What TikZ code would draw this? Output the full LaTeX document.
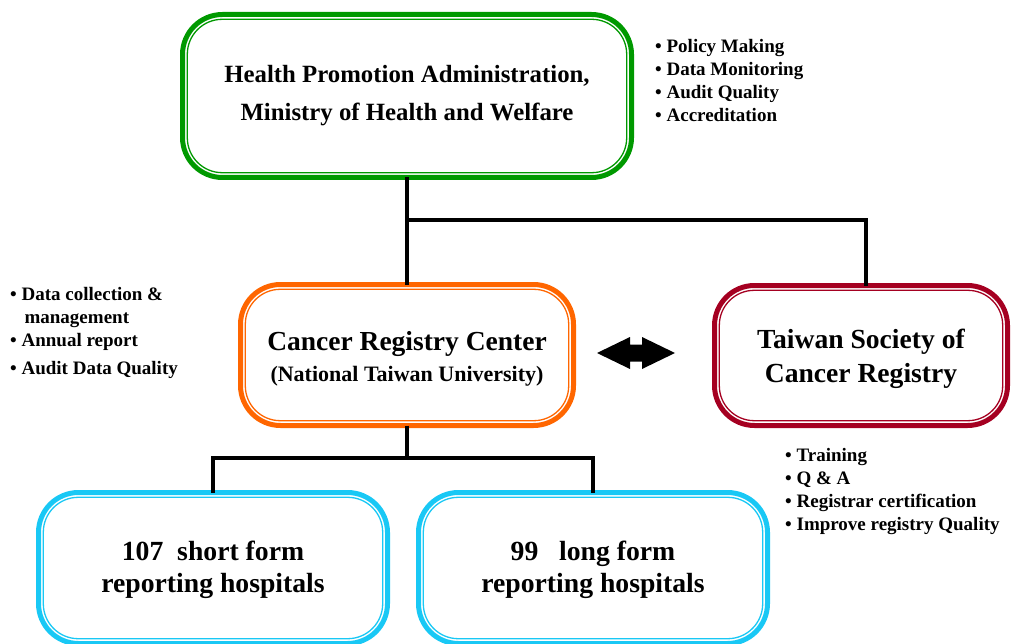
\documentclass[tikz,border=0pt]{standalone}
\usepackage{fontspec}
\setmainfont{Liberation Serif}
\usetikzlibrary{positioning,calc}

\definecolor{hpagreen}{RGB}{0,153,0}
\definecolor{crcorange}{RGB}{255,102,0}
\definecolor{tscrred}{RGB}{165,0,33}
\definecolor{hospcyan}{RGB}{25,200,245}

\tikzset{
  unit/.style={draw=#1, line width=5pt, rounded corners=40pt, fill=white,
    align=center, inner sep=0pt, outer sep=0pt},
  link/.style={line width=4pt},
  duty/.style={anchor=north west, align=left, inner sep=0pt,
    font=\bfseries\fontsize{19}{23}\selectfont}
}
% thin inner line of the double border
\newcommand{\innerline}[2]{%
  \draw[#2, line width=1.3pt, rounded corners=35pt]
    ($(#1.north west)+(4.8,4.8)$) rectangle ($(#1.south east)+(-4.8,-4.8)$);}

\begin{document}
\begin{tikzpicture}[x=1pt,y=-1pt]
    \useasboundingbox (0,0) rectangle (1011,644);

    % boxes
    \node[unit=hpagreen, minimum width=449pt, minimum height=163pt,
      font=\bfseries\fontsize{24.8}{38}\selectfont] (hpa) at (407,96)
      {Health Promotion Administration,\\Ministry of Health and Welfare};
    \node[unit=crcorange, minimum width=333pt, minimum height=141pt,
      font=\bfseries\fontsize{27.5}{31}\selectfont] (crc) at (407,355)
      {\rule{0pt}{26pt}Cancer Registry Center\\
       {\fontsize{22}{31}\selectfont (National Taiwan University)}};
    \node[unit=tscrred, minimum width=293pt, minimum height=140pt,
      font=\bfseries\fontsize{27.6}{34}\selectfont] (tscr) at (861,355.5)
      {\rule{0pt}{27pt}Taiwan Society of\\Cancer Registry};
    \node[unit=hospcyan, minimum width=349pt, minimum height=151pt,
      font=\bfseries\fontsize{27.7}{32}\selectfont] (short) at (213,568)
      {\rule{0pt}{23pt}107\ \ short form\\reporting hospitals};
    \node[unit=hospcyan, minimum width=349pt, minimum height=151pt,
      font=\bfseries\fontsize{27.7}{32}\selectfont] (long) at (593,568)
      {\rule{0pt}{23pt}99\ \ \ long form\\reporting hospitals};

    \innerline{hpa}{hpagreen}
    \innerline{crc}{crcorange}
    \innerline{tscr}{tscrred}
    \innerline{short}{hospcyan}
    \innerline{long}{hospcyan}

    % connectors
    \coordinate (fork) at (407,220);
    \coordinate (split) at (407,458);
    \draw[link] (hpa.south) -- (crc.north);
    \draw[link] (fork) -| ([xshift=5pt]tscr.north);
    \draw[link] (crc.south) -- (split);
    \draw[link] (short.north) |- (split) -| (long.north);

    % two-way link
    \coordinate (swap) at (636,353);
    \fill[black] ($(swap)+(-39,0)$) -- ++(33,-16) -- ++(0,7.5) -- ++(12,0)
      -- ++(0,-7.5) -- ($(swap)+(39,0)$) -- ++(-33,16) -- ++(0,-7.5)
      -- ++(-12,0) -- ++(0,7.5) -- cycle;

    % task lists
    \node[duty] (hpatasks) at (655,39)
      {\textbullet\ Policy Making\\\textbullet\ Data Monitoring\\
       \textbullet\ Audit Quality\\\textbullet\ Accreditation};
    \node[duty] (crctasks) at (10,287)
      {\textbullet\ Data collection \&\\\hphantom{\textbullet\ }\hspace{3pt}management\\
       \textbullet\ Annual report\\[5pt]\textbullet\ Audit Data Quality};
    \node[duty] (tscrtasks) at (785,448)
      {\textbullet\ Training\\\textbullet\ Q \& A\\
       \textbullet\ Registrar certification\\\textbullet\ Improve registry Quality};
\end{tikzpicture}
\end{document}
